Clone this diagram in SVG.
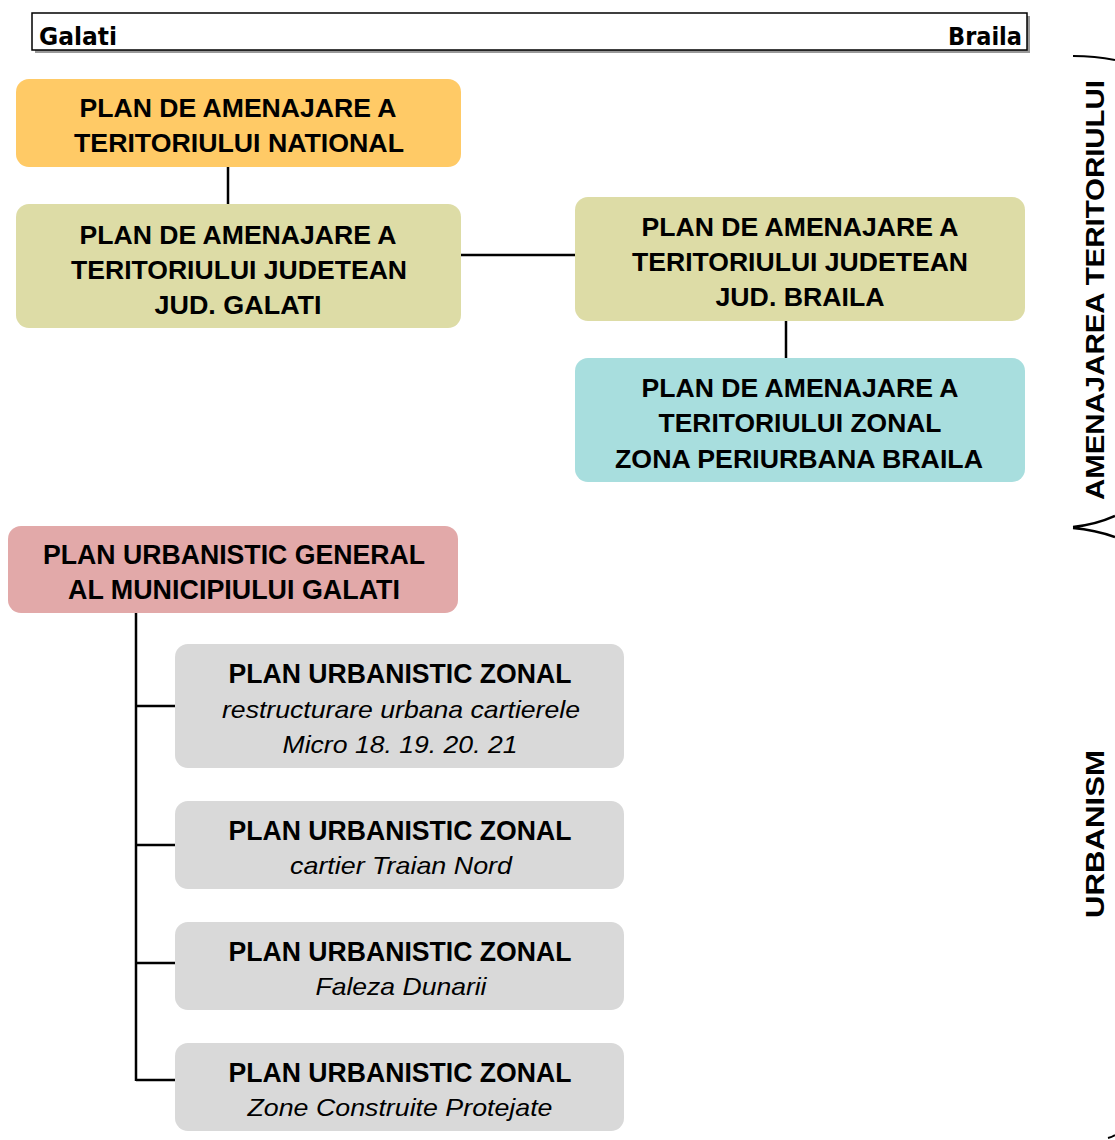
<svg xmlns="http://www.w3.org/2000/svg" width="1115" height="1140" viewBox="0 0 1115 1140">
<style>
.b{font-family:"Liberation Sans",Arial,sans-serif;font-weight:bold;font-size:26px;fill:#000;text-anchor:middle}
.n{font-family:"Liberation Sans",Arial,sans-serif;font-weight:bold;font-size:27px;fill:#000;text-anchor:middle}
.i{font-family:"Liberation Sans",Arial,sans-serif;font-style:italic;font-size:24px;fill:#000;text-anchor:middle}
.h{font-family:"DejaVu Sans Condensed","DejaVu Sans",sans-serif;font-weight:bold;font-size:25px;fill:#000}
.s{font-family:"Liberation Sans",Arial,sans-serif;font-weight:bold;font-size:25px;fill:#000;text-anchor:middle}
.c{stroke:#000;stroke-width:2.5;fill:none}
</style>
<rect width="1115" height="1140" fill="#fff"/>
<g id="header">
<rect x="35" y="16" width="995" height="37" fill="#999"/>
<rect x="32" y="13" width="995" height="37" fill="#fff" stroke="#000" stroke-width="1.5"/>
<text class="h" x="39" y="45" textLength="78" lengthAdjust="spacingAndGlyphs">Galati</text>
<text class="h" x="948" y="45" textLength="74" lengthAdjust="spacingAndGlyphs">Braila</text>
</g>
<g id="connectors">
<line class="c" x1="228" y1="167" x2="228" y2="204"/>
<line class="c" x1="461" y1="255" x2="575" y2="255"/>
<line class="c" x1="786" y1="321" x2="786" y2="358"/>
<line class="c" x1="136" y1="613" x2="136" y2="1081"/>
<line class="c" x1="136" y1="706" x2="175" y2="706"/>
<line class="c" x1="136" y1="845" x2="175" y2="845"/>
<line class="c" x1="136" y1="963" x2="175" y2="963"/>
<line class="c" x1="136" y1="1080" x2="175" y2="1080"/>
</g>
<g id="pat-national">
<rect x="16" y="79" width="445" height="88" rx="13" fill="#FFCA66"/>
<text class="b" x="238" y="117" textLength="317" lengthAdjust="spacingAndGlyphs">PLAN DE AMENAJARE A</text>
<text class="b" x="239" y="152" textLength="330" lengthAdjust="spacingAndGlyphs">TERITORIULUI NATIONAL</text>
</g>
<g id="pat-galati">
<rect x="16" y="204" width="445" height="124" rx="13" fill="#DDDCA6"/>
<text class="b" x="238" y="244" textLength="317" lengthAdjust="spacingAndGlyphs">PLAN DE AMENAJARE A</text>
<text class="b" x="239" y="279" textLength="336" lengthAdjust="spacingAndGlyphs">TERITORIULUI JUDETEAN</text>
<text class="b" x="238" y="314" textLength="167" lengthAdjust="spacingAndGlyphs">JUD. GALATI</text>
</g>
<g id="pat-braila">
<rect x="575" y="197" width="450" height="124" rx="13" fill="#DDDCA6"/>
<text class="b" x="800" y="236" textLength="317" lengthAdjust="spacingAndGlyphs">PLAN DE AMENAJARE A</text>
<text class="b" x="800" y="271" textLength="336" lengthAdjust="spacingAndGlyphs">TERITORIULUI JUDETEAN</text>
<text class="b" x="800" y="306" textLength="169" lengthAdjust="spacingAndGlyphs">JUD. BRAILA</text>
</g>
<g id="pat-zonal">
<rect x="575" y="358" width="450" height="124" rx="13" fill="#A8DEDE"/>
<text class="b" x="800" y="397" textLength="317" lengthAdjust="spacingAndGlyphs">PLAN DE AMENAJARE A</text>
<text class="b" x="800" y="432" textLength="283" lengthAdjust="spacingAndGlyphs">TERITORIULUI ZONAL</text>
<text class="b" x="799" y="468" textLength="368" lengthAdjust="spacingAndGlyphs">ZONA PERIURBANA BRAILA</text>
</g>
<g id="pug">
<rect x="8" y="526" width="450" height="87" rx="13" fill="#E2A9A9"/>
<text class="n" x="234" y="564" textLength="382" lengthAdjust="spacingAndGlyphs">PLAN URBANISTIC GENERAL</text>
<text class="n" x="234" y="599" textLength="332" lengthAdjust="spacingAndGlyphs">AL MUNICIPIULUI GALATI</text>
</g>
<g id="puz-micro">
<rect x="175" y="644" width="449" height="124" rx="13" fill="#D9D9D9"/>
<text class="n" x="400" y="683" textLength="343" lengthAdjust="spacingAndGlyphs">PLAN URBANISTIC ZONAL</text>
<text class="i" x="401" y="718" textLength="358" lengthAdjust="spacingAndGlyphs">restructurare urbana cartierele</text>
<text class="i" x="400" y="753" textLength="235" lengthAdjust="spacingAndGlyphs">Micro 18. 19. 20. 21</text>
</g>
<g id="puz-traian">
<rect x="175" y="801" width="449" height="88" rx="13" fill="#D9D9D9"/>
<text class="n" x="400" y="840" textLength="343" lengthAdjust="spacingAndGlyphs">PLAN URBANISTIC ZONAL</text>
<text class="i" x="401" y="874" textLength="222" lengthAdjust="spacingAndGlyphs">cartier Traian Nord</text>
</g>
<g id="puz-faleza">
<rect x="175" y="922" width="449" height="88" rx="13" fill="#D9D9D9"/>
<text class="n" x="400" y="961" textLength="343" lengthAdjust="spacingAndGlyphs">PLAN URBANISTIC ZONAL</text>
<text class="i" x="401" y="995" textLength="171" lengthAdjust="spacingAndGlyphs">Faleza Dunarii</text>
</g>
<g id="puz-protejate">
<rect x="175" y="1043" width="449" height="88" rx="13" fill="#D9D9D9"/>
<text class="n" x="400" y="1082" textLength="343" lengthAdjust="spacingAndGlyphs">PLAN URBANISTIC ZONAL</text>
<text class="i" x="400" y="1116" textLength="305" lengthAdjust="spacingAndGlyphs">Zone Construite Protejate</text>
</g>
<g id="side-labels">
<text class="s" transform="translate(1104,290) rotate(-90)" textLength="420" lengthAdjust="spacingAndGlyphs">AMENAJAREA TERITORIULUI</text>
<text class="s" transform="translate(1104,834) rotate(-90)" textLength="168" lengthAdjust="spacingAndGlyphs">URBANISM</text>
<path d="M1073,56 Q1095,56 1115,60" stroke="#000" stroke-width="2" fill="none"/>
<path d="M1073,527 Q1095,525 1115,516 M1073,528 Q1095,530 1115,537" stroke="#000" stroke-width="2.5" fill="none"/>
<path d="M1108,1138 Q1112,1137 1115,1135" stroke="#000" stroke-width="2" fill="none"/>
</g>
</svg>
